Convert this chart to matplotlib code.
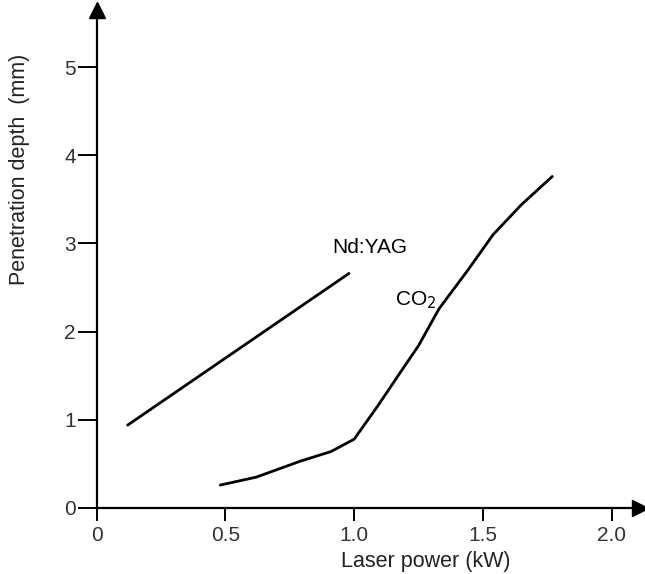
import matplotlib.pyplot as plt

plt.rcParams['font.family'] = ['Liberation Sans', 'DejaVu Sans']

# penetration depth vs laser power for the two laser types
yag_power = [0.12, 0.51, 0.98]
yag_depth = [0.94, 1.72, 2.66]

co2_power = [0.48, 0.62, 0.79, 0.91, 1.00, 1.09, 1.18, 1.25, 1.33, 1.44, 1.54, 1.65, 1.77]
co2_depth = [0.26, 0.35, 0.53, 0.64, 0.78, 1.15, 1.54, 1.84, 2.26, 2.69, 3.10, 3.44, 3.76]

xticks = [0, 0.5, 1.0, 1.5, 2.0]
xticklabels = ['0', '0.5', '1.0', '1.5', '2.0']
yticks = [0, 1, 2, 3, 4, 5]

fig = plt.figure(figsize=(6.45, 5.74), dpi=100)
ax = fig.add_axes([0.150, 0.115, 0.842, 0.868])

ax.plot(yag_power, yag_depth, color='black', lw=2.0, solid_capstyle='round')
ax.plot(co2_power, co2_depth, color='black', lw=2.0, solid_capstyle='round')

ax.set_xlim(0, 2.11)
ax.set_ylim(0, 5.65)

for side in ['top', 'right']:
    ax.spines[side].set_visible(False)
for side in ['left', 'bottom']:
    ax.spines[side].set_linewidth(1.6)

ax.set_xticks(xticks)
ax.set_xticklabels(xticklabels)
ax.set_yticks(yticks)
ax.tick_params(axis='x', direction='out', length=9, width=1.4, pad=4,
               labelsize=15, labelcolor='#333333')
ax.tick_params(axis='y', direction='out', length=14, width=1.4, pad=1,
               labelsize=15, labelcolor='#333333')

# arrow heads at the ends of both axes
ax.plot(1, 0, '>', color='black', ms=11, transform=ax.get_yaxis_transform(), clip_on=False)
ax.plot(0, 1, '^', color='black', ms=11, transform=ax.get_xaxis_transform(), clip_on=False)

ax.set_xlabel('Laser power (kW)', fontsize=15.5, color='#222222')
ax.set_ylabel('Penetration depth  (mm)', fontsize=15.5, color='#222222')
ax.xaxis.set_label_coords(0.606, -0.086)
ax.yaxis.set_label_coords(-0.122, 0.679)

ax.text(1.06, 2.95, 'Nd:YAG', fontsize=15, ha='center', va='center')
ax.text(1.24, 2.36, 'CO$_2$', fontsize=15, ha='center', va='center')

fig.savefig('out.png', dpi=100)
